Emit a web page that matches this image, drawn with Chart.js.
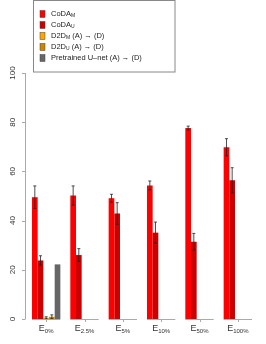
<!DOCTYPE html>
<html>
<head>
<meta charset="utf-8">
<script src="https://cdn.jsdelivr.net/npm/chart.js@4.4.1/dist/chart.umd.min.js"></script>
<style>
html, body { margin: 0; padding: 0; background: #fff; }
#wrap { width: 266px; height: 344px; }
</style>
</head>
<body>
<div id="wrap"><canvas id="barChart"></canvas></div>
<script>
// E subscripts
var categories = ["0%", "2.5%", "5%", "10%", "50%", "100%"];

var codaM     = [49.5, 50.2, 49.1, 54.3, 77.6, 69.8];
var codaMErr  = [4.6, 3.9, 1.6, 1.8, 0.8, 3.5];
var codaU     = [23.8, 26.0, 42.9, 35.1, 31.4, 56.4];
var codaUErr  = [1.9, 2.6, 4.4, 4.3, 3.4, 5.1];
var d2dM      = [0.5, 0, 0, 0, 0, 0];
var d2dMErr   = [0.4, 0, 0, 0, 0, 0];
var d2dU      = [0.9, 0, 0, 0, 0, 0];
var d2dUErr   = [0.8, 0, 0, 0, 0, 0];
var unet      = [22.2, 0, 0, 0, 0, 0];
var unetErr   = [0, 0, 0, 0, 0, 0];

var yTicks = [0, 20, 40, 60, 80, 100];

// legend entries: main text, subscript, trailing text
var legendItems = [
    ["CoDA", "M", "", "#ff0000"],
    ["CoDA", "U", "", "#cc0000"],
    ["D2D", "M", " (A) \u2192 (D)", "#ffa500"],
    ["D2D", "U", " (A) \u2192 (D)", "#cd8500"],
    ["Pretrained U\u2013net (A) \u2192 (D)", "", "", "#666666"]
];

var errs = [codaMErr, codaUErr, d2dMErr, d2dUErr, unetErr];
var FONT = '"Liberation Sans", Arial, sans-serif';
var CAT_PCT = 0.74;

var decorPlugin = {
    id: 'decor',
    afterDatasetsDraw: function(chart) {
        var ctx = chart.ctx;
        var x = chart.scales.x, y = chart.scales.y;
        ctx.save();

        // error bars
        ctx.strokeStyle = '#222';
        ctx.lineWidth = 0.8;
        chart.data.datasets.forEach(function(ds, di) {
            var meta = chart.getDatasetMeta(di);
            meta.data.forEach(function(bar, i) {
                var e = errs[di][i];
                if (!e) return;
                var v = ds.data[i];
                var yt = y.getPixelForValue(v + e), yb = y.getPixelForValue(Math.max(v - e, 0));
                ctx.beginPath();
                ctx.moveTo(bar.x, yt); ctx.lineTo(bar.x, yb);
                ctx.moveTo(bar.x - 1.5, yt); ctx.lineTo(bar.x + 1.5, yt);
                ctx.moveTo(bar.x - 1.5, yb); ctx.lineTo(bar.x + 1.5, yb);
                ctx.stroke();
            });
        });

        // y axis
        var ax = 25.5;
        ctx.strokeStyle = '#aaa';
        ctx.lineWidth = 1;
        ctx.beginPath();
        ctx.moveTo(ax, y.getPixelForValue(0)); ctx.lineTo(ax, y.getPixelForValue(100));
        yTicks.forEach(function(t) {
            var py = Math.round(y.getPixelForValue(t)) + 0.5;
            ctx.moveTo(ax, py); ctx.lineTo(ax - 3.5, py);
        });
        ctx.stroke();
        ctx.fillStyle = '#333';
        ctx.font = '8px ' + FONT;
        ctx.textAlign = 'center';
        ctx.textBaseline = 'middle';
        yTicks.forEach(function(t) {
            ctx.save();
            ctx.translate(13, y.getPixelForValue(t));
            ctx.rotate(-Math.PI / 2);
            ctx.fillText(String(t), 0, 0);
            ctx.restore();
        });

        // x baselines under each group and labels
        var step = (x.right - x.left) / categories.length;
        var half = step * CAT_PCT / 2;
        var y0 = Math.round(y.getPixelForValue(0)) + 0.5;
        categories.forEach(function(c, i) {
            var cx = x.getPixelForValue(i);
            ctx.strokeStyle = '#aaa';
            ctx.beginPath();
            ctx.moveTo(cx - half, y0); ctx.lineTo(cx + half, y0);
            ctx.moveTo(Math.round(cx) + 0.5, y0); ctx.lineTo(Math.round(cx) + 0.5, y0 + 2.5);
            ctx.stroke();
            ctx.fillStyle = '#333';
            ctx.textBaseline = 'alphabetic';
            ctx.textAlign = 'left';
            ctx.font = '9px ' + FONT;
            var w1 = ctx.measureText('E').width;
            ctx.font = '6px ' + FONT;
            var w2 = ctx.measureText(c).width;
            var sx = cx - (w1 + w2) / 2;
            ctx.font = '9px ' + FONT;
            ctx.fillText('E', sx, 331);
            ctx.font = '6px ' + FONT;
            ctx.fillText(c, sx + w1, 333);
        });

        // legend box
        ctx.strokeStyle = '#888';
        ctx.lineWidth = 1;
        ctx.strokeRect(33.5, 0.5, 141.5, 71.5);
        legendItems.forEach(function(it, i) {
            var ly = 14 + i * 11;
            ctx.fillStyle = it[3];
            ctx.fillRect(40, ly - 3.5, 5, 7);
            ctx.strokeStyle = '#444';
            ctx.lineWidth = 0.5;
            ctx.strokeRect(40, ly - 3.5, 5, 7);
            ctx.fillStyle = '#222';
            ctx.textBaseline = 'middle';
            ctx.font = '7.5px ' + FONT;
            ctx.fillText(it[0], 51, ly);
            var px = 51 + ctx.measureText(it[0]).width;
            if (it[1]) {
                ctx.font = '5px ' + FONT;
                ctx.fillText(it[1], px, ly + 2);
                px += ctx.measureText(it[1]).width;
            }
            if (it[2]) {
                ctx.font = '7.5px ' + FONT;
                ctx.fillText(it[2], px, ly);
            }
        });
        ctx.restore();
    }
};

function ds(label, data, color) {
    return { label: label, data: data, backgroundColor: color, borderWidth: 0,
             barPercentage: 1.0, categoryPercentage: CAT_PCT };
}

var ctxB = document.getElementById('barChart').getContext('2d');
var myBarChart = new Chart(ctxB, {
    type: 'bar',
    data: {
        labels: categories,
        datasets: [
            ds('CoDA_M', codaM, '#ff0000'),
            ds('CoDA_U', codaU, '#cc0000'),
            ds('D2D_M (A) -> (D)', d2dM, '#ffa500'),
            ds('D2D_U (A) -> (D)', d2dU, '#cd8500'),
            ds('Pretrained U-net (A) -> (D)', unet, '#666666')
        ]
    },
    options: {
        responsive: true,
        maintainAspectRatio: false,
        animation: false,
        layout: { padding: { left: 27, right: 9, top: 73, bottom: 25 } },
        plugins: { legend: { display: false }, tooltip: { enabled: false } },
        scales: {
            x: { display: false },
            y: { display: false, min: 0, max: 100 }
        }
    },
    plugins: [decorPlugin]
});
</script>
</body>
</html>
